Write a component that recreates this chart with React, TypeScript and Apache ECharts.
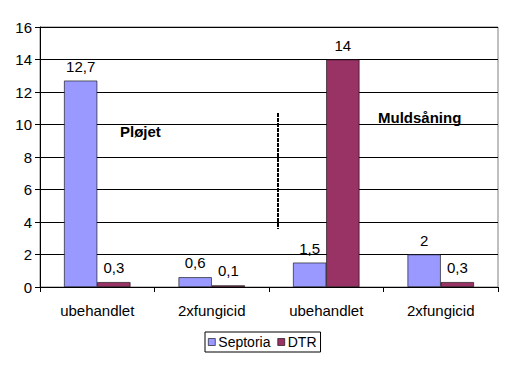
import React, { useEffect, useRef } from "react";
import * as echarts from "echarts";

const categories = ["ubehandlet", "2xfungicid", "ubehandlet", "2xfungicid"];
const septoria = [12.7, 0.6, 1.5, 2];
const dtr = [0.3, 0.1, 14, 0.3];
const yTicks = { min: 0, max: 16, interval: 2 };
const FONT = 'Arial, "Liberation Sans", sans-serif';

const fmt = (v: number) => String(v).replace(".", ",");

export default function App() {
  const ref = useRef<HTMLDivElement>(null);
  useEffect(() => {
    if (!ref.current) return;
    const chart = echarts.init(ref.current, null, { renderer: "svg" });
    chart.setOption({
      animation: false,
      backgroundColor: "#ffffff",
      textStyle: { fontFamily: FONT },
      grid: {
        left: 40,
        right: 12,
        top: 27,
        bottom: 79,
        show: true,
        borderColor: "#808080",
        borderWidth: 1,
        backgroundColor: "transparent",
      },
      legend: {
        data: ["Septoria", "DTR"],
        left: 205,
        top: 332,
        orient: "horizontal",
        icon: "rect",
        itemWidth: 7,
        itemHeight: 7,
        itemGap: 7,
        padding: [3, 4, 3, 3],
        borderColor: "#000",
        borderWidth: 1,
        textStyle: { fontSize: 14, color: "#000", fontFamily: FONT, padding: [0, 0, 0, -2] },
        itemStyle: { borderColor: "#000", borderWidth: 0.6 },
      },
      xAxis: {
        type: "category",
        data: categories,
        boundaryGap: true,
        axisLine: { lineStyle: { color: "#000", width: 1 } },
        axisTick: { show: true, alignWithLabel: false, length: 5, lineStyle: { color: "#000" } },
        axisLabel: { fontSize: 15, color: "#000", margin: 16, fontFamily: FONT },
        splitLine: { show: false },
      },
      yAxis: {
        type: "value",
        min: yTicks.min,
        max: yTicks.max,
        interval: yTicks.interval,
        axisLine: { show: true, lineStyle: { color: "#000", width: 1 } },
        axisTick: { show: true, length: 5, lineStyle: { color: "#000" } },
        axisLabel: { fontSize: 15, color: "#000", margin: 8, fontFamily: FONT },
        splitLine: { show: true, lineStyle: { color: "#000", width: 1 } },
      },
      series: [
        {
          name: "Septoria",
          type: "bar",
          data: septoria,
          barWidth: "29%",
          barGap: "0%",
          itemStyle: { color: "#9999FF", borderColor: "#000", borderWidth: 0.6 },
          label: {
            show: true,
            position: "top",
            distance: 7,
            fontSize: 15,
            color: "#000",
            fontFamily: FONT,
            formatter: (p: any) => fmt(p.value),
          },
        },
        {
          name: "DTR",
          type: "bar",
          data: dtr,
          barWidth: "29%",
          barGap: "0%",
          itemStyle: { color: "#993366", borderColor: "#000", borderWidth: 0.6 },
          label: {
            show: true,
            position: "top",
            distance: 7,
            fontSize: 15,
            color: "#000",
            fontFamily: FONT,
            formatter: (p: any) => fmt(p.value),
          },
        },
      ],
      graphic: [
        {
          type: "line",
          shape: { x1: 278, y1: 113, x2: 278, y2: 229 },
          style: { stroke: "#000", lineWidth: 2, lineDash: [4, 1] },
          z: 10,
        },
        {
          type: "text",
          left: 120,
          top: 124,
          style: { text: "Pløjet", font: `bold 15px ${FONT}`, fill: "#000" },
          z: 10,
        },
        {
          type: "text",
          left: 378,
          top: 110,
          style: { text: "Muldsåning", font: `bold 15px ${FONT}`, fill: "#000" },
          z: 10,
        },
      ],
    });
    return () => chart.dispose();
  }, []);
  return <div ref={ref} style={{ width: 510, height: 366, position: "absolute", left: 0, top: 0 }} />;
}
